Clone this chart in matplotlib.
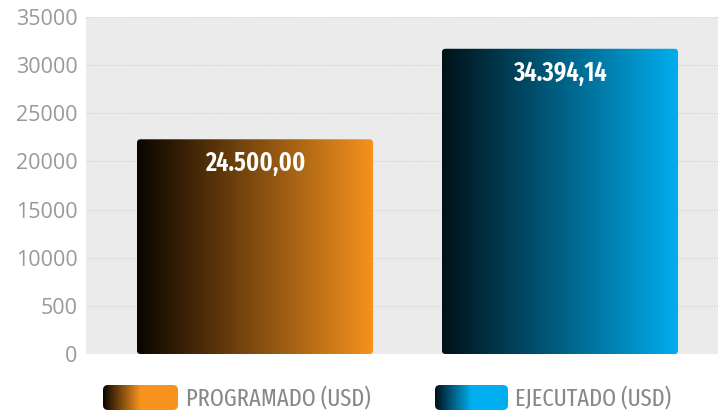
import numpy as np
import matplotlib
matplotlib.use('Agg')
import matplotlib.pyplot as plt
from matplotlib.colors import LinearSegmentedColormap
from matplotlib.patches import FancyBboxPatch

# data
categories = ['PROGRAMADO (USD)', 'EJECUTADO (USD)']
heights = [22300, 31700]
bar_labels = ['24.500,00', '34.394,14']
tick_values = [0, 5000, 10000, 15000, 20000, 25000, 30000, 35000]
tick_labels = ['0', '500', '10000', '15000', '20000', '25000', '30000', '35000']
grad_colors = [('#0a0500', '#f7931e'), ('#001219', '#00aeef')]

cond = 'Fira Sans Extra Condensed'

fig = plt.figure(figsize=(7.18, 4.16), dpi=100)
ax = fig.add_axes([86 / 718, 62 / 416, 632 / 718, 337 / 416])
ax.set_facecolor('#ebebeb')
ax.set_xlim(-0.554, 1.518)
ax.set_ylim(0, 35000)

grad = np.linspace(0, 1, 256).reshape(1, -1)
width = 0.774
for i, (h, lab, cols) in enumerate(zip(heights, bar_labels, grad_colors)):
    cmap = LinearSegmentedColormap.from_list(f'g{i}', cols)
    x0 = i - width / 2
    patch = FancyBboxPatch((x0, 0), width, h,
                           boxstyle='round,pad=0,rounding_size=0.012',
                           mutation_aspect=35000 / 337 * 305,
                           facecolor='none', edgecolor='none', zorder=2)
    ax.add_patch(patch)
    im = ax.imshow(grad, cmap=cmap, extent=(x0, x0 + width, 0, h),
                   aspect='auto', zorder=2, interpolation='bilinear')
    im.set_clip_path(patch)
    ax.text(i, h - 2500, lab, ha='center', va='center', color='white',
            fontsize=19, fontweight='semibold', family=cond, zorder=3)

ax.set_yticks(tick_values)
ax.set_yticklabels(tick_labels, family='Open Sans')
ax.set_xticks([])
ax.tick_params(axis='y', length=0, pad=6, labelsize=15.5, labelcolor='#999999')
ax.grid(axis='y', color='#d2d2d2', linestyle=(0, (1, 1.5)), linewidth=0.8, zorder=1)
ax.set_axisbelow(True)
for s in ax.spines.values():
    s.set_visible(False)

# legend drawn by hand with gradient swatches
lax = fig.add_axes([0, 0, 1, 1], facecolor='none')
lax.set_xlim(0, 718)
lax.set_ylim(416, 0)
lax.axis('off')
swatches = [(103, 178, 186), (435, 508, 515)]
for i, ((sx0, sx1, tx), cols, name) in enumerate(zip(swatches, grad_colors, categories)):
    cmap = LinearSegmentedColormap.from_list(f'l{i}', [cols[0], cols[1], cols[1]])
    patch = FancyBboxPatch((sx0, 385), sx1 - sx0, 25,
                           boxstyle='round,pad=0,rounding_size=5',
                           facecolor='none', edgecolor='none')
    lax.add_patch(patch)
    im = lax.imshow(grad, cmap=cmap, extent=(sx0, sx1, 410, 385),
                    aspect='auto', interpolation='bilinear')
    im.set_clip_path(patch)
    lax.text(tx, 398, name, ha='left', va='center', color='#888888',
             fontsize=17.5, family=cond)

fig.savefig('out.png', dpi=100)
